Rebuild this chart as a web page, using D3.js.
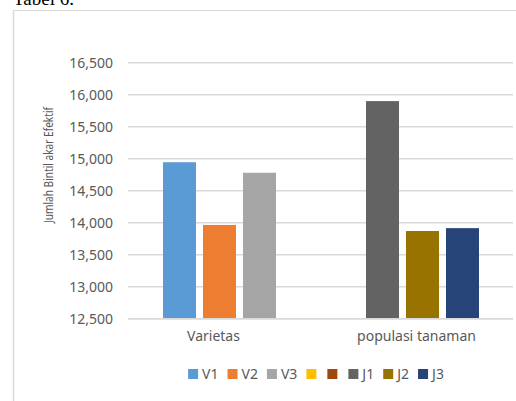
<!DOCTYPE html>
<html>
<head>
<meta charset="utf-8">
<script src="https://cdn.jsdelivr.net/npm/d3@7"></script>
<style>
  body { margin: 0; background: #fff; }
  svg { display: block; }
  text { font-family: "Noto Sans", "Open Sans", sans-serif; }
</style>
</head>
<body>
<svg id="chart" width="516" height="401"></svg>
<script>
// chart data
const categories = ["Varietas", "populasi tanaman"];
const seriesNames = ["V1", "V2", "V3", "", "", "J1", "J2", "J3"];
const seriesColors = ["#5b9bd5", "#ed7d31", "#a5a5a5", "#ffc000", "#9e480e", "#636363", "#997300", "#264478"];
const varietasValues = [14945, 13965, 14780, null, null, null, null, null];
const populasiValues = [null, null, null, null, null, 15900, 13870, 13915];
const yTicks = [12500, 13000, 13500, 14000, 14500, 15000, 15500, 16000, 16500];

const valuesByCategory = [varietasValues, populasiValues];

const svg = d3.select('#chart');

// Title text from the document, cut off at the top
svg.append("text")
  .attr("x", 13)
  .attr("y", 5)
  .style("font-family", "'Liberation Serif', 'Times New Roman', serif")
  .attr("font-size", 19)
  .attr("fill", "#000")
  .text("Tabel 6.");

// chart frame (top + left edges only visible)
svg.append("line")
  .attr("x1", 13).attr("x2", 516).attr("y1", 10.5).attr("y2", 10.5)
  .attr("stroke", "#d9d9d9").attr("stroke-width", 1);
svg.append("line")
  .attr("x1", 13.5).attr("x2", 13.5).attr("y1", 10).attr("y2", 401)
  .attr("stroke", "#d9d9d9").attr("stroke-width", 1.5);

const plotLeft = 128, plotRight = 513;

// Y scale
const y = d3.scaleLinear()
  .domain([12500, 16500])
  .range([318.7, 62.7]);

// X scales
const x0 = d3.scaleBand()
  .domain(categories)
  .range([118, 524]);

const x1 = d3.scaleBand()
  .domain([0, 1, 2])
  .range([0, 113])
  .paddingInner(0.175)
  .paddingOuter(0);

// gridlines
svg.append("g")
  .selectAll("line")
  .data(yTicks)
  .enter().append("line")
  .attr("x1", plotLeft)
  .attr("x2", plotRight)
  .attr("y1", d => y(d))
  .attr("y2", d => y(d))
  .attr("stroke", "#d9d9d9")
  .attr("stroke-width", 1.5);

// Y axis labels
const fmt = d3.format(",");
svg.append("g")
  .selectAll("text")
  .data(yTicks)
  .enter().append("text")
  .attr("x", 113)
  .attr("y", d => y(d))
  .attr("dy", "0.35em")
  .attr("text-anchor", "end")
  .attr("font-size", 14)
  .attr("fill", "#595959")
  .text(d => fmt(d));

// Y axis title (squeezed a bit, the original font is narrower)
svg.append("text")
  .attr("transform", "translate(53,165) rotate(-90)")
  .attr("text-anchor", "middle")
  .attr("font-size", 12.5)
  .attr("fill", "#595959")
  .attr("textLength", 116)
  .attr("lengthAdjust", "spacingAndGlyphs")
  .text("Jumlah Bintil akar Efektif");

// Bars
categories.forEach((cat, ci) => {
  const present = [];
  valuesByCategory[ci].forEach((v, si) => {
    if (v !== null) present.push({ series: si, value: v });
  });
  const groupX = x0(cat) + (x0.bandwidth() - 113) / 2;
  svg.append("g")
    .selectAll("rect")
    .data(present)
    .enter().append("rect")
    .attr("x", (d, i) => groupX + x1(i))
    .attr("y", d => y(d.value))
    .attr("width", x1.bandwidth())
    .attr("height", d => y(12500) - y(d.value))
    .attr("fill", d => seriesColors[d.series]);
});

// redraw baseline over the bars
svg.append("line")
  .attr("x1", plotLeft).attr("x2", plotRight)
  .attr("y1", y(12500)).attr("y2", y(12500))
  .attr("stroke", "#d9d9d9").attr("stroke-width", 1.5);

// category labels
svg.append("g")
  .selectAll("text")
  .data(categories)
  .enter().append("text")
  .attr("x", d => x0(d) + x0.bandwidth() / 2 - 6)
  .attr("y", 341)
  .attr("text-anchor", "middle")
  .attr("font-size", 14)
  .attr("fill", "#595959")
  .text(d => d);

// Legend
const legend = svg.append("g");
let cursor = 0;
seriesNames.forEach((name, i) => {
  const item = legend.append("g").attr("transform", `translate(${cursor},0)`);
  item.append("rect")
    .attr("x", 0).attr("y", 369)
    .attr("width", 10).attr("height", 10)
    .attr("fill", seriesColors[i]);
  let w = 10;
  if (name !== "") {
    const t = item.append("text")
      .attr("x", 14).attr("y", 379)
      .attr("font-size", 14)
      .attr("fill", "#595959")
      .text(name);
    w = 14 + t.node().getComputedTextLength();
  }
  cursor += w + (name !== "" ? 9 : 11);
});
const legendWidth = cursor - 9;
legend.attr("transform", `translate(${316 - legendWidth / 2},0)`);
</script>
</body>
</html>
